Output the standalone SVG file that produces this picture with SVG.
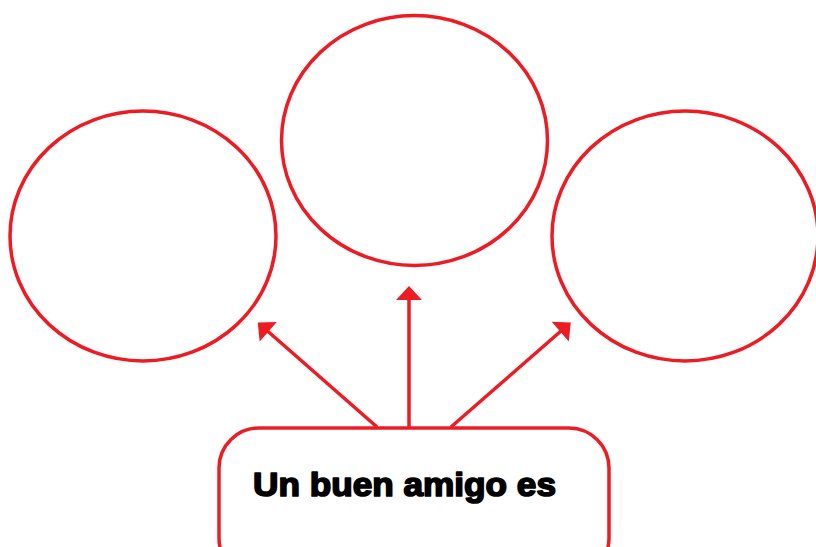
<svg xmlns="http://www.w3.org/2000/svg" width="816" height="547" viewBox="0 0 816 547">
<style>
.node{fill:#fff;stroke:#ED1C24;stroke-width:3.5}
.conn{stroke:#ED1C24;stroke-width:3.5;fill:none}
.lbl{font-family:"Liberation Sans",Arial,sans-serif;font-weight:bold;font-size:34px;fill:#000;stroke:#000;stroke-width:1.7;stroke-linejoin:round}
</style>
<defs>
<marker id="ah" markerUnits="userSpaceOnUse" markerWidth="26" markerHeight="26" viewBox="0 0 14 26" refX="1" refY="13" orient="auto">
<path d="M0,0 L14,13 L0,26 Z" fill="#ED1C24"/>
</marker>
</defs>
<rect width="816" height="547" fill="#fff"/>
<g id="circle-left"><ellipse class="node" cx="143" cy="236" rx="133" ry="125"/></g>
<g id="circle-middle"><ellipse class="node" cx="414.5" cy="140.5" rx="133" ry="125"/></g>
<g id="circle-right"><ellipse class="node" cx="685" cy="236" rx="133" ry="125"/></g>
<g id="connectors">
<line class="conn" x1="409" y1="428" x2="409" y2="299" marker-end="url(#ah)"/>
<line class="conn" x1="377" y1="427" x2="267.5" y2="331" marker-end="url(#ah)"/>
<line class="conn" x1="451" y1="427" x2="561" y2="331" marker-end="url(#ah)"/>
</g>
<g id="box">
<rect class="node" x="219" y="428" width="390" height="150" rx="40" ry="40"/>
<text class="lbl" x="253" y="496" textLength="303" lengthAdjust="spacingAndGlyphs">Un buen amigo es</text>
</g>
</svg>
